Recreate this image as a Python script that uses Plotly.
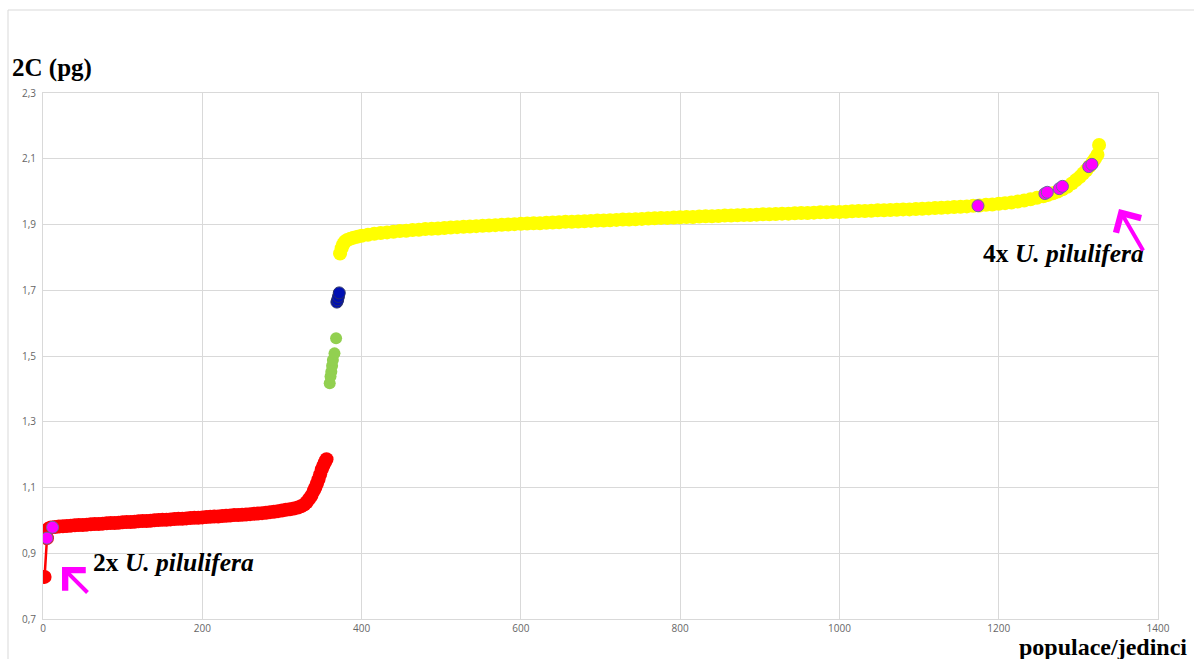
import plotly.graph_objects as go

# --- 2C DNA content (pg) of individuals, sorted by value ---
# diploid group (red)
red_x = [2, 5, 7, 10, 15, 20, 25, 30, 35, 40, 45, 50, 55, 60, 65, 70, 75, 80, 85, 90,
         95, 100, 105, 110, 115, 120, 125, 130, 135, 140, 145, 150, 155, 160, 165, 170,
         175, 180, 185, 190, 195, 200, 205, 210, 215, 220, 225, 230, 235, 240, 245, 250,
         255, 260, 265, 270, 275, 280, 285, 290, 295, 300, 305, 310, 315, 320, 324, 328,
         331, 334, 337, 340, 342, 344, 346, 348, 350, 352, 354, 356]
red_y = [0.828, 0.946, 0.975, 0.978, 0.980, 0.981, 0.982, 0.983, 0.984, 0.985, 0.986,
         0.986, 0.987, 0.988, 0.989, 0.989, 0.990, 0.991, 0.992, 0.992, 0.993, 0.994,
         0.995, 0.995, 0.996, 0.997, 0.998, 0.998, 0.999, 1.000, 1.001, 1.002, 1.002,
         1.003, 1.004, 1.005, 1.005, 1.006, 1.007, 1.008, 1.008, 1.009, 1.010, 1.011,
         1.012, 1.012, 1.013, 1.014, 1.015, 1.016, 1.016, 1.017, 1.018, 1.019, 1.020,
         1.021, 1.022, 1.023, 1.025, 1.026, 1.028, 1.030, 1.032, 1.034, 1.036, 1.039,
         1.043, 1.048, 1.055, 1.065, 1.075, 1.090, 1.100, 1.112, 1.125, 1.140, 1.155,
         1.166, 1.177, 1.186]

# intermediate values (green)
green_x = [360, 361, 362, 363, 364, 366, 368]
green_y = [1.417, 1.438, 1.452, 1.470, 1.488, 1.508, 1.554]

# intermediate values (blue)
blue_x = [369, 370, 371, 372]
blue_y = [1.664, 1.671, 1.681, 1.692]

# tetraploid group (yellow)
yellow_x = [373, 375, 377, 379, 382, 386, 390, 395, 400, 408, 416, 424, 432, 440, 448,
            456, 464, 472, 480, 488, 496, 504, 512, 520, 528, 536, 544, 552, 560, 568,
            576, 584, 592, 600, 608, 616, 624, 632, 640, 648, 656, 664, 672, 680, 688,
            696, 704, 712, 720, 728, 736, 744, 752, 760, 768, 776, 784, 792, 800, 808,
            816, 824, 832, 840, 848, 856, 864, 872, 880, 888, 896, 904, 912, 920, 928,
            936, 944, 952, 960, 968, 976, 984, 992, 1000, 1008, 1016, 1024, 1032, 1040,
            1048, 1056, 1064, 1072, 1080, 1088, 1096, 1104, 1112, 1120, 1128, 1136, 1144,
            1152, 1160, 1168, 1176, 1184, 1192, 1200, 1208, 1216, 1224, 1232, 1240, 1248,
            1256, 1262, 1268, 1274, 1280, 1286, 1292, 1297, 1302, 1306, 1310, 1314, 1318,
            1321, 1324, 1326]
yellow_y = [1.812, 1.828, 1.840, 1.848, 1.853, 1.857, 1.860, 1.863, 1.866, 1.869, 1.872,
            1.874, 1.876, 1.878, 1.880, 1.881, 1.883, 1.884, 1.886, 1.887, 1.888, 1.889,
            1.891, 1.892, 1.893, 1.894, 1.895, 1.896, 1.897, 1.898, 1.899, 1.900, 1.901,
            1.902, 1.903, 1.904, 1.904, 1.905, 1.906, 1.907, 1.908, 1.908, 1.909, 1.910,
            1.911, 1.912, 1.912, 1.913, 1.914, 1.915, 1.915, 1.916, 1.917, 1.918, 1.919,
            1.920, 1.920, 1.921, 1.922, 1.923, 1.923, 1.924, 1.925, 1.925, 1.926, 1.927,
            1.927, 1.928, 1.929, 1.929, 1.930, 1.931, 1.931, 1.932, 1.933, 1.933, 1.934,
            1.935, 1.935, 1.936, 1.937, 1.937, 1.938, 1.938, 1.939, 1.940, 1.941, 1.941,
            1.942, 1.943, 1.943, 1.944, 1.945, 1.946, 1.946, 1.947, 1.948, 1.949, 1.950,
            1.951, 1.952, 1.953, 1.954, 1.955, 1.957, 1.958, 1.960, 1.961, 1.963, 1.965,
            1.967, 1.970, 1.973, 1.977, 1.981, 1.986, 1.990, 1.995, 2.000, 2.007, 2.015,
            2.025, 2.035, 2.045, 2.055, 2.065, 2.077, 2.090, 2.100, 2.112, 2.142]

# U. pilulifera reference individuals (magenta)
pil_x = [5, 12, 1174, 1258, 1261, 1276, 1280, 1313, 1317]
pil_y = [0.946, 0.979, 1.957, 1.994, 1.998, 2.009, 2.016, 2.076, 2.083]

x_ticks = [0, 200, 400, 600, 800, 1000, 1200, 1400]
y_ticks = [0.7, 0.9, 1.1, 1.3, 1.5, 1.7, 1.9, 2.1, 2.3]

# canvas / plot-area geometry in pixels
W, H = 1194, 659
L, R, T, B = 43, 36, 93, 40
PW, PH = W - L - R, H - T - B


def px(xp):
    return (xp - L) / PW


def py(yp):
    return (H - B - yp) / PH


fig = go.Figure()

fig.add_trace(go.Scatter(x=red_x, y=red_y, mode="lines+markers",
                         line=dict(color="#ff0000", width=2.5),
                         marker=dict(color="#ff0000", size=14), hoverinfo="x+y"))
fig.add_trace(go.Scatter(x=green_x, y=green_y, mode="markers",
                         marker=dict(color="#92d050", size=12)))
fig.add_trace(go.Scatter(x=blue_x, y=blue_y, mode="markers",
                         marker=dict(color="#0010b4", size=12,
                                     line=dict(color="#28306a", width=1))))
fig.add_trace(go.Scatter(x=yellow_x, y=yellow_y, mode="markers",
                         marker=dict(color="#ffff00", size=14)))
fig.add_trace(go.Scatter(x=pil_x, y=pil_y, mode="markers",
                         marker=dict(color="#ff00ff", size=12,
                                     line=dict(color="#6e6aa0", width=1))))

grid = "#d9d9d9"
tick_font = dict(family="Open Sans", size=10, color="#666666")
axis_common = dict(showgrid=True, gridcolor=grid, gridwidth=1, zeroline=False,
                   showline=True, linecolor=grid, linewidth=1, mirror=True,
                   ticks="", tickfont=tick_font, fixedrange=True)

fig.update_xaxes(range=[0, 1400], tickvals=x_ticks, tickformat="d", **axis_common)
fig.update_yaxes(range=[0.7, 2.3], tickvals=y_ticks, tickformat=".1f",
                 ticklabelstandoff=4, **axis_common)

serif = "Liberation Serif"
annotations = [
    dict(text="<b>2C (pg)</b>", x=px(10), y=py(68), xanchor="left", yanchor="middle",
         font=dict(family=serif, size=25, color="#000000")),
    dict(text="<b>populace/jedinci</b>", x=px(1189), y=py(646.5), xanchor="right",
         yanchor="middle", font=dict(family=serif, size=24, color="#000000")),
    dict(text="<b>2x <i>U. pilulifera</i></b>", x=px(91), y=py(562), xanchor="left",
         yanchor="middle", font=dict(family=serif, size=25.5, color="#000000")),
    dict(text="<b>4x <i>U. pilulifera</i></b>", x=px(981), y=py(253), xanchor="left",
         yanchor="middle", font=dict(family=serif, size=25.5, color="#000000")),
]
for a in annotations:
    a.update(xref="paper", yref="paper", showarrow=False)

# magenta pointer arrows
for tip, off in [((62, 567), (27, 27)), ((1119, 209), (25, 43))]:
    annotations.append(dict(text="", xref="paper", yref="paper",
                            x=px(tip[0]), y=py(tip[1]), ax=off[0], ay=off[1],
                            showarrow=True, arrowhead=4, arrowsize=1.4,
                            arrowwidth=4, arrowcolor="#ff00ff"))

# light frame around the chart
shapes = [
    dict(type="line", xref="paper", yref="paper", x0=px(8), x1=px(W + 5),
         y0=py(10), y1=py(10), line=dict(color=grid, width=1)),
    dict(type="line", xref="paper", yref="paper", x0=px(8), x1=px(8),
         y0=py(10), y1=py(H + 5), line=dict(color=grid, width=1)),
]

fig.update_layout(
    width=W, height=H, autosize=False,
    margin=dict(l=L, r=R, t=T, b=B, pad=0),
    paper_bgcolor="#ffffff", plot_bgcolor="#ffffff",
    showlegend=False, separators=", ",
    annotations=annotations, shapes=shapes,
)

fig.write_html("out.html", config={"displayModeBar": False})
